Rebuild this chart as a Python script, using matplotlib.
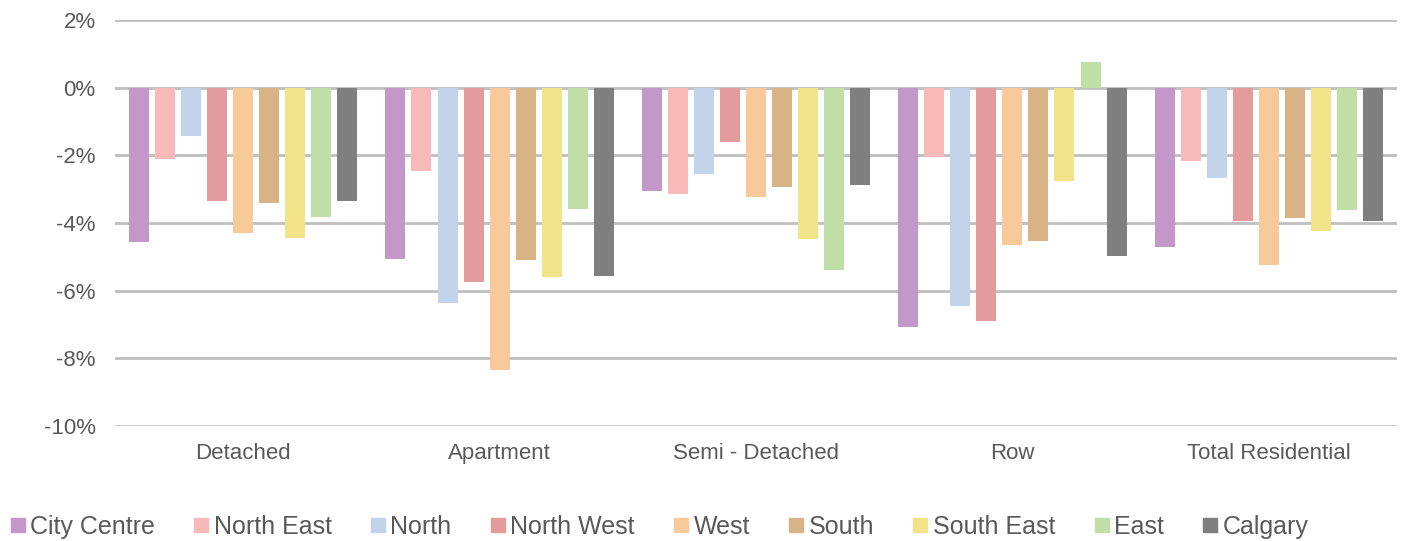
import numpy as np
import matplotlib.pyplot as plt
from matplotlib.ticker import FuncFormatter
from matplotlib.lines import Line2D

categories = ["Detached", "Apartment", "Semi - Detached", "Row", "Total Residential"]
regions = ["City Centre", "North East", "North", "North West", "West",
           "South", "South East", "East", "Calgary"]

city_centre = [-4.57, -5.07, -3.04, -7.08, -4.72]
north_east = [-2.10, -2.45, -3.13, -2.06, -2.18]
north = [-1.42, -6.37, -2.54, -6.46, -2.68]
north_west = [-3.36, -5.75, -1.60, -6.90, -3.95]
west = [-4.30, -8.35, -3.24, -4.66, -5.25]
south = [-3.42, -5.10, -2.95, -4.54, -3.86]
south_east = [-4.45, -5.60, -4.48, -2.77, -4.25]
east = [-3.83, -3.60, -5.40, 0.75, -3.63]
calgary = [-3.36, -5.58, -2.89, -4.98, -3.95]

series = [city_centre, north_east, north, north_west, west,
          south, south_east, east, calgary]
colors = ["#c397c8", "#f8b9b9", "#c2d3ea", "#e49b9b", "#f8c999",
          "#d8b386", "#f2e389", "#c0dfa7", "#7f7f7f"]

plt.rcParams["font.family"] = ["Liberation Sans", "DejaVu Sans"]
text_color = "#595959"

fig = plt.figure(figsize=(14.03, 5.41), dpi=100)
ax = fig.add_axes([0.082, 0.2126, 0.9137, 0.7504])

x = np.arange(len(categories))
step = 0.1016
width = 0.078
for i, (vals, c) in enumerate(zip(series, colors)):
    ax.bar(x + (i - 4) * step, vals, width, color=c, zorder=3)

ax.set_xlim(-0.5, len(categories) - 0.5)
ax.set_ylim(-10, 2)
ax.set_yticks(np.arange(-10, 3, 2))
ax.yaxis.set_major_formatter(FuncFormatter(lambda v, p: f"{v:.0f}%"))
ax.set_xticks(x)
ax.set_xticklabels(categories)
ax.grid(axis="y", color="#bfbfbf", linewidth=2, zorder=0)
for s in ax.spines.values():
    s.set_visible(False)
ax.tick_params(axis="both", length=0, labelsize=16, colors=text_color)
ax.tick_params(axis="y", pad=14)
ax.tick_params(axis="x", pad=12)

handles = [Line2D([], [], marker="s", linestyle="none", markersize=10,
                  markerfacecolor=c, markeredgecolor=c) for c in colors]
fig.legend(handles, regions, loc="lower left", bbox_to_anchor=(0.0, -0.015),
           ncol=9, frameon=False, fontsize=18, handlelength=0.6,
           handletextpad=0.2, columnspacing=1.55, labelcolor=text_color,
           borderaxespad=0.0)

fig.savefig("out.png", dpi=100)
